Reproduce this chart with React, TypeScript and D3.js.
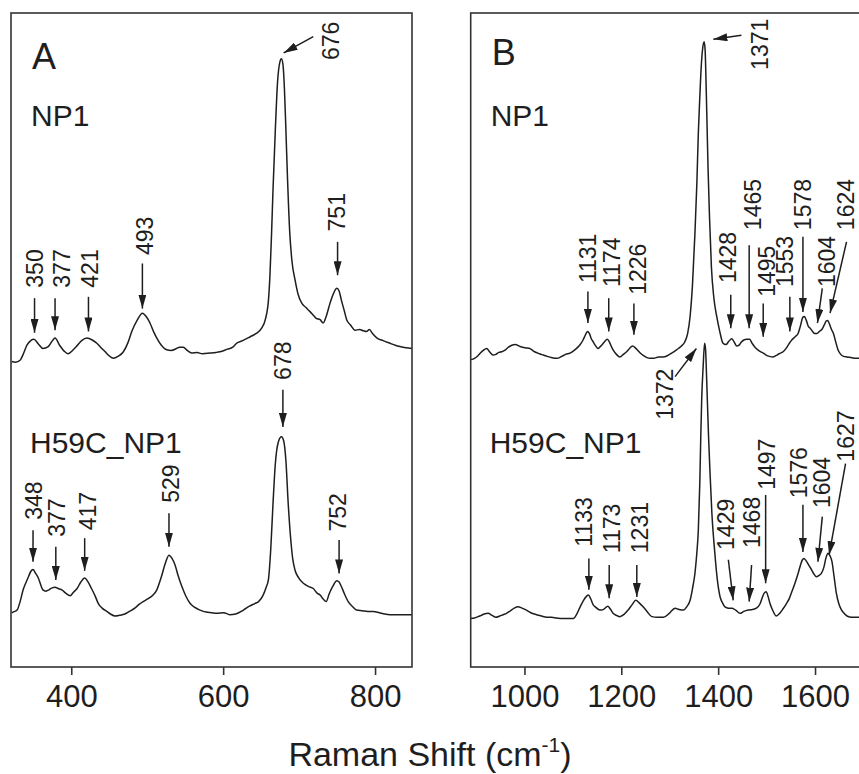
import React from "react";
import * as d3 from "d3";

// Raman spectra, panel A (low wavenumber) – [wavenumber, intensity a.u.], offset traces
const np1Low: [number, number][] = [
  [321, 46.7], [326, 46.6], [332, 46.9], [336, 47.8], [341, 49.2], [346, 49.9], [350, 50.1], [356, 49.4],
  [362, 48.7], [369, 49.0], [374, 49.8], [378, 50.3], [384, 49.2], [390, 48.3], [395, 47.9], [401, 48.4],
  [406, 49.0], [413, 49.9], [420, 50.3], [427, 50.0], [433, 49.5], [438, 48.9], [444, 48.2], [449, 47.6],
  [455, 47.2], [461, 47.5], [468, 48.2], [474, 49.6], [479, 51.3], [486, 53.0], [493, 54.1], [498, 53.6],
  [503, 52.6], [508, 51.2], [512, 50.3], [518, 49.2], [525, 48.5], [531, 48.4], [538, 48.7], [542, 48.9],
  [547, 48.9], [552, 48.4], [558, 48.0], [565, 48.1], [572, 47.9], [582, 48.0], [590, 48.1], [595, 48.2],
  [605, 48.6], [612, 48.9], [617, 49.5], [625, 49.9], [635, 50.5], [643, 51.0], [650, 51.8], [655, 53.2],
  [659, 56.1], [661, 60], [663, 66], [665, 73], [668, 82], [671, 89.5], [674, 92.5], [676, 93.0],
  [678, 92.2], [680, 88.5], [682, 82], [684, 75], [687, 66.5], [690, 62], [694, 59.2], [698, 57.0],
  [703, 55.6], [708, 55.0], [714, 54.3], [718, 53.8], [722, 53.3], [727, 53.1], [731, 52.6], [735, 53.6],
  [740, 55.6], [745, 57.2], [749, 57.9], [752, 57.5], [755, 56.1], [759, 54.4], [762, 53.1], [767, 52.3],
  [773, 51.5], [779, 51.6], [784, 51.4], [788, 51.3], [792, 51.6], [796, 51.0], [802, 50.3], [810, 49.9],
  [819, 49.5], [826, 49.2], [832, 49.0], [840, 48.8], [848, 48.7],
];
const h59cLow: [number, number][] = [
  [321, 8.3], [325, 8.5], [328, 8.7], [332, 10.0], [336, 11.8], [340, 13.0], [343, 13.8], [346, 14.6],
  [349, 14.9], [352, 14.4], [356, 13.6], [359, 12.6], [362, 11.8], [366, 11.6], [370, 11.8], [374, 12.1],
  [378, 12.2], [382, 12.0], [387, 11.8], [392, 11.3], [398, 10.9], [402, 11.4], [407, 12.0], [412, 13.0],
  [417, 13.6], [421, 13.1], [426, 12.0], [431, 10.8], [435, 9.7], [440, 9.0], [446, 8.5], [451, 8.1],
  [457, 7.8], [463, 7.9], [470, 8.1], [476, 8.5], [483, 9.0], [489, 9.6], [494, 10.0], [500, 10.4],
  [507, 11.0], [512, 11.8], [518, 13.8], [523, 15.8], [528, 17.1], [532, 16.6], [536, 15.6], [540, 14.0],
  [545, 12.3], [550, 10.9], [556, 9.7], [562, 9.1], [569, 8.7], [577, 8.4], [584, 8.3], [591, 8.2],
  [600, 8.3], [608, 8.0], [616, 8.1], [626, 8.7], [634, 9.3], [641, 9.7], [646, 10.0], [652, 11.0],
  [656, 12.2], [659, 13.4], [662, 18], [665, 25], [668, 31], [672, 34.4], [676, 35.2], [679, 34.6],
  [682, 31.5], [685, 25.0], [688, 20.0], [691, 16.5], [694, 14.8], [699, 13.6], [705, 12.8], [712, 12.3],
  [718, 12.0], [723, 11.3], [727, 11.0], [731, 10.4], [735, 10.0], [739, 11.2], [744, 12.4], [749, 13.2],
  [752, 13.0], [755, 12.3], [759, 11.2], [764, 10.0], [770, 9.2], [775, 8.7], [782, 8.6], [790, 8.5],
  [797, 8.5], [805, 8.3], [812, 8.1], [819, 8.0], [830, 8.0], [840, 8.0], [848, 8.0],
];

// panel B (high wavenumber)
const np1High: [number, number][] = [
  [888, 47.0], [896, 47.2], [903, 47.6], [908, 48.0], [914, 48.4], [921, 48.7], [927, 48.2], [934, 47.7],
  [940, 47.8], [946, 48.1], [952, 48.2], [958, 48.4], [966, 48.9], [973, 49.2], [980, 49.3], [990, 49.0],
  [1000, 48.8], [1010, 48.7], [1020, 48.2], [1030, 47.9], [1038, 47.7], [1046, 47.5], [1056, 47.3], [1066, 47.2],
  [1076, 47.5], [1084, 47.8], [1093, 48.0], [1103, 48.5], [1113, 49.2], [1120, 50.0], [1125, 50.8], [1129, 51.3],
  [1133, 51.0], [1137, 50.2], [1141, 49.7], [1146, 49.1], [1151, 48.7], [1157, 49.1], [1164, 49.7], [1170, 50.1],
  [1175, 49.6], [1179, 48.9], [1182, 48.5], [1189, 47.8], [1196, 47.4], [1203, 47.8], [1210, 48.2], [1216, 48.7],
  [1222, 49.1], [1228, 48.8], [1233, 48.4], [1238, 48.0], [1245, 47.6], [1252, 47.3], [1258, 47.2], [1266, 47.2],
  [1276, 47.4], [1285, 47.4], [1294, 47.6], [1303, 48.0], [1313, 48.5], [1322, 49.0], [1330, 49.7], [1336, 51.0],
  [1341, 53.6], [1346, 58.5], [1351, 66.3], [1355, 74], [1358, 81.6], [1361, 87], [1364, 91.8], [1367, 94.6],
  [1370, 95.6], [1372, 94.4], [1374, 89.3], [1376, 83], [1378, 76.5], [1381, 69], [1385, 61.2], [1390, 56.5],
  [1396, 53.6], [1402, 51.4], [1409, 49.5], [1415, 49.3], [1421, 49.8], [1427, 50.2], [1432, 49.7], [1437, 49.1],
  [1442, 49.2], [1447, 49.7], [1452, 50.0], [1458, 50.1], [1464, 50.1], [1469, 49.5], [1475, 48.9], [1481, 48.5],
  [1487, 48.2], [1492, 48.0], [1498, 47.7], [1505, 47.5], [1512, 47.4], [1518, 47.6], [1525, 47.9], [1533, 48.2],
  [1540, 48.8], [1546, 49.5], [1551, 50.0], [1558, 50.5], [1564, 51.0], [1569, 52.2], [1574, 53.5], [1577, 53.6],
  [1581, 53.0], [1585, 52.1], [1589, 51.8], [1594, 51.3], [1598, 51.0], [1603, 51.0], [1608, 51.3], [1613, 51.6],
  [1618, 52.3], [1622, 52.9], [1625, 53.0], [1629, 52.4], [1633, 51.6], [1637, 51.0], [1641, 49.9], [1646, 48.6],
  [1652, 47.8], [1658, 47.5], [1665, 47.4], [1675, 47.3], [1682, 47.2], [1690, 47.2],
];
const h59cHigh: [number, number][] = [
  [888, 7.4], [896, 7.5], [903, 7.7], [910, 7.9], [916, 8.1], [924, 8.2], [932, 7.9], [940, 7.6],
  [948, 7.8], [955, 8.0], [962, 8.2], [970, 8.6], [978, 9.0], [986, 9.2], [994, 9.0], [1003, 8.7],
  [1012, 8.3], [1024, 8.0], [1034, 7.8], [1045, 7.6], [1055, 7.6], [1065, 7.5], [1079, 7.4], [1090, 7.4],
  [1100, 7.4], [1107, 8.1], [1114, 9.2], [1121, 10.2], [1127, 10.8], [1131, 11.0], [1136, 10.4], [1141, 9.5],
  [1145, 9.2], [1152, 8.8], [1158, 8.7], [1164, 8.9], [1171, 9.3], [1176, 8.9], [1182, 8.2], [1189, 7.9],
  [1196, 7.7], [1204, 8.0], [1213, 8.7], [1221, 9.5], [1229, 10.2], [1236, 9.8], [1244, 9.2], [1252, 8.5],
  [1262, 7.7], [1274, 7.6], [1286, 7.6], [1298, 8.2], [1310, 9.0], [1318, 8.8], [1327, 8.7], [1334, 9.2],
  [1341, 10.2], [1346, 12.0], [1351, 14.3], [1355, 17.5], [1358, 20.9], [1361, 28], [1363, 35], [1365, 41],
  [1368, 46], [1371, 49.5], [1373, 48.5], [1375, 44.5], [1377, 40], [1379, 35.5], [1382, 30], [1386, 23.5],
  [1392, 17.5], [1397, 13.5], [1403, 10.7], [1408, 9.8], [1413, 9.2], [1420, 9.0], [1427, 9.0], [1435, 8.7],
  [1444, 8.2], [1452, 8.5], [1461, 8.7], [1470, 8.8], [1478, 9.0], [1485, 9.6], [1490, 10.6], [1494, 11.3],
  [1498, 11.5], [1502, 10.8], [1506, 9.7], [1512, 8.6], [1519, 7.8], [1526, 8.2], [1533, 8.9], [1540, 9.7],
  [1546, 10.5], [1551, 11.5], [1557, 12.7], [1564, 14.3], [1569, 15.6], [1573, 16.4], [1576, 16.6], [1580, 16.3],
  [1585, 15.7], [1590, 15.1], [1596, 14.3], [1602, 13.8], [1607, 14.0], [1612, 14.3], [1617, 15.2], [1622, 16.8],
  [1626, 17.4], [1630, 17.0], [1634, 16.1], [1638, 14.0], [1643, 11.3], [1648, 9.7], [1653, 8.8], [1658, 8.3],
  [1665, 7.8], [1675, 7.6], [1682, 7.6], [1690, 7.6],
];

const ticksLow = [400, 600, 800];
const ticksHigh = [1000, 1200, 1400, 1600];

// peak annotations: label, arrow start (x1,y1) -> tip (x2,y2), text anchor (tx,ty) in data units
type Note = { label: string; x1: number; y1: number; x2: number; y2: number; tx: number; ty: number };
const notesLow: Note[] = [
  { label: "350", x1: 351, y1: 56.4, x2: 351, y2: 51.1, tx: 351, ty: 58.0 },
  { label: "377", x1: 378, y1: 56.4, x2: 378, y2: 51.5, tx: 387, ty: 58.0 },
  { label: "421", x1: 422, y1: 56.6, x2: 422, y2: 51.3, tx: 424, ty: 58.0 },
  { label: "493", x1: 493, y1: 61.7, x2: 493, y2: 54.8, tx: 496, ty: 63.0 },
  { label: "676", x1: 718, y1: 96.4, x2: 679, y2: 93.9, tx: 741, ty: 92.8 },
  { label: "751", x1: 750, y1: 65.0, x2: 750, y2: 59.9, tx: 749, ty: 66.6 },
  { label: "348", x1: 349, y1: 20.9, x2: 349, y2: 16.1, tx: 350, ty: 22.5 },
  { label: "377", x1: 379, y1: 18.4, x2: 379, y2: 13.3, tx: 380, ty: 19.9 },
  { label: "417", x1: 417, y1: 19.7, x2: 417, y2: 14.7, tx: 422, ty: 20.9 },
  { label: "529", x1: 528, y1: 23.5, x2: 528, y2: 18.4, tx: 531, ty: 25.1 },
  { label: "678", x1: 678, y1: 42.4, x2: 678, y2: 36.7, tx: 678, ty: 43.9 },
  { label: "752", x1: 752, y1: 19.4, x2: 752, y2: 14.3, tx: 751, ty: 20.7 },
];
const notesHigh: Note[] = [
  { label: "1131", x1: 1130, y1: 57.4, x2: 1130, y2: 52.6, tx: 1131, ty: 58.7 },
  { label: "1174", x1: 1173, y1: 56.4, x2: 1173, y2: 51.3, tx: 1179, ty: 58.1 },
  { label: "1226", x1: 1225, y1: 55.6, x2: 1225, y2: 50.8, tx: 1234, ty: 56.9 },
  { label: "1371", x1: 1447, y1: 96.6, x2: 1389, y2: 96.0, tx: 1485, ty: 91.3 },
  { label: "1428", x1: 1425, y1: 56.9, x2: 1425, y2: 51.8, tx: 1420, ty: 58.7 },
  { label: "1465", x1: 1463, y1: 64.5, x2: 1463, y2: 51.8, tx: 1470, ty: 66.8 },
  { label: "1495", x1: 1492, y1: 55.6, x2: 1492, y2: 50.5, tx: 1499, ty: 56.6 },
  { label: "1553", x1: 1547, y1: 56.6, x2: 1547, y2: 51.3, tx: 1537, ty: 58.1 },
  { label: "1578", x1: 1574, y1: 65.8, x2: 1574, y2: 54.3, tx: 1574, ty: 66.8 },
  { label: "1604", x1: 1614, y1: 57.9, x2: 1604, y2: 52.6, tx: 1624, ty: 58.1 },
  { label: "1624", x1: 1664, y1: 65.0, x2: 1630, y2: 54.1, tx: 1662, ty: 66.8 },
  { label: "1372", x1: 1310, y1: 44.4, x2: 1354, y2: 48.7, tx: 1289, ty: 37.8 },
  { label: "1133", x1: 1132, y1: 16.6, x2: 1132, y2: 11.8, tx: 1122, ty: 18.4 },
  { label: "1173", x1: 1174, y1: 15.6, x2: 1174, y2: 10.5, tx: 1179, ty: 17.4 },
  { label: "1231", x1: 1231, y1: 15.6, x2: 1231, y2: 10.7, tx: 1237, ty: 17.4 },
  { label: "1429", x1: 1420, y1: 16.4, x2: 1430, y2: 10.2, tx: 1416, ty: 17.9 },
  { label: "1468", x1: 1468, y1: 15.6, x2: 1463, y2: 10.0, tx: 1468, ty: 18.2 },
  { label: "1497", x1: 1497, y1: 26.3, x2: 1497, y2: 12.8, tx: 1500, ty: 27.1 },
  { label: "1576", x1: 1574, y1: 24.8, x2: 1574, y2: 17.6, tx: 1566, ty: 25.8 },
  { label: "1604", x1: 1614, y1: 23.0, x2: 1605, y2: 16.1, tx: 1614, ty: 24.3 },
  { label: "1627", x1: 1662, y1: 31.1, x2: 1628, y2: 17.1, tx: 1662, ty: 31.4 },
];

const FONT = "'Liberation Sans', Arial, Helvetica, sans-serif";
const INK = "#1e1e1e";

const Panel = ({ x, ticks, series, notes, letter }: any) => {
  const y = d3.scaleLinear().domain([0, 100]).range([667, 13]);
  const line = d3
    .line<[number, number]>()
    .x((d) => x(d[0]))
    .y((d) => y(d[1]))
    .curve(d3.curveMonotoneX);
  const [x0, x1] = x.range();
  return (
    <g>
      {series.map((s: [number, number][], i: number) => (
        <path key={i} d={line(s) || ""} fill="none" stroke={INK} strokeWidth={1.5} />
      ))}
      <rect x={x0} y={13} width={x1 - x0} height={654} fill="none" stroke="#333" strokeWidth={1.6} />
      {ticks.map((t: number) => (
        <g key={t} transform={`translate(${x(t)},667)`}>
          <line y2={8} stroke="#333" strokeWidth={1.6} />
          <text y={40} textAnchor="middle" fontSize={31} fill={INK}>
            {t}
          </text>
        </g>
      ))}
      {notes.map((n: Note, i: number) => (
        <g key={i}>
          <line
            x1={x(n.x1)}
            y1={y(n.y1)}
            x2={x(n.x2)}
            y2={y(n.y2)}
            stroke={INK}
            strokeWidth={1.5}
            markerEnd="url(#head)"
          />
          <text
            transform={`translate(${x(n.tx)},${y(n.ty)}) rotate(-90)`}
            dominantBaseline="central"
            fontSize={23}
            fill={INK}
          >
            {n.label}
          </text>
        </g>
      ))}
      <text x={x0 + 21} y={letter.y} fontSize={36} fill={INK}>
        {letter.text}
      </text>
      <text x={x0 + 20} y={126} fontSize={30} fill={INK}>
        NP1
      </text>
      <text x={x0 + 19} y={453} fontSize={30} fill={INK}>
        H59C_NP1
      </text>
    </g>
  );
};

export default function App() {
  const xLow = d3.scaleLinear().domain([320, 848]).range([11, 412]);
  const xHigh = d3.scaleLinear().domain([888, 1716]).range([470.7, 871.7]);
  return (
    <svg
      width={859}
      height={774}
      style={{ position: "absolute", left: 0, top: 0, display: "block", background: "#fff" }}
      fontFamily={FONT}
    >
      <defs>
        <marker
          id="head"
          viewBox="0 0 14 8"
          refX={14}
          refY={4}
          markerWidth={14}
          markerHeight={8}
          markerUnits="userSpaceOnUse"
          orient="auto"
        >
          <path d="M0,0 L14,4 L0,8 Z" fill={INK} />
        </marker>
      </defs>
      <rect width={859} height={774} fill="#fff" />
      <Panel x={xLow} ticks={ticksLow} series={[np1Low, h59cLow]} notes={notesLow} letter={{ text: "A", y: 69 }} />
      <Panel x={xHigh} ticks={ticksHigh} series={[np1High, h59cHigh]} notes={notesHigh} letter={{ text: "B", y: 65 }} />
      <text x={430} y={766} textAnchor="middle" fontSize={34} fill={INK}>
        Raman Shift (cm
        <tspan fontSize={21} dy={-14}>-1</tspan>
        <tspan dy={14}>)</tspan>
      </text>
    </svg>
  );
}
